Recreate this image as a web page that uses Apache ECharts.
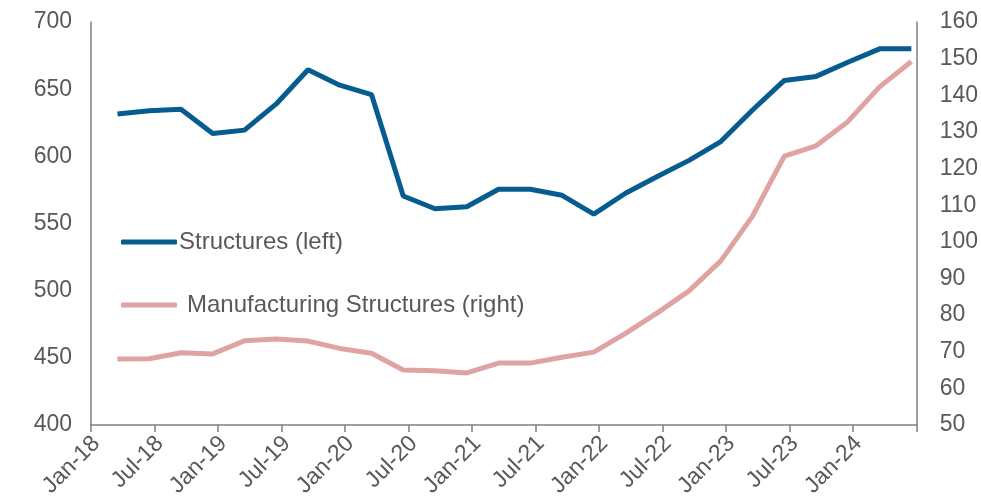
<!DOCTYPE html>
<html>
<head>
<meta charset="utf-8">
<script src="https://cdn.jsdelivr.net/npm/echarts@6/dist/echarts.min.js"></script>
<style>html,body{margin:0;padding:0;background:#fff}#c{width:981px;height:504px}</style>
</head>
<body>
<div id="c"></div>
<script>
// Quarterly observations (plotted at mid-month of Mar, Jun, Sep, Dec)
const quarterMonths = ["Mar-18","Jun-18","Sep-18","Dec-18","Mar-19","Jun-19","Sep-19","Dec-19",
  "Mar-20","Jun-20","Sep-20","Dec-20","Mar-21","Jun-21","Sep-21","Dec-21",
  "Mar-22","Jun-22","Sep-22","Dec-22","Mar-23","Jun-23","Sep-23","Dec-23","Mar-24","Jun-24"];
const structures = [631.5,634,635,617,619.5,639,664.5,653,646,570.5,561,562.5,575.5,575.5,571,557,
  572.5,585,597,611,634.5,656.5,659.5,670,680,680];
const manufacturing = [68,68.1,69.7,69.4,73,73.5,72.9,70.9,69.6,65,64.8,64.2,66.9,66.9,68.5,69.9,
  75,80.6,86.6,94.8,107,123.4,126.2,132.8,142.3,149.2];
const monthNames = ["Jan","Feb","Mar","Apr","May","Jun","Jul","Aug","Sep","Oct","Nov","Dec"];
const years = ["18","19","20","21","22","23","24"];
const leftTicks = {min:400,max:700,interval:50};
const rightTicks = {min:50,max:160,interval:10};

const months = [];
years.forEach(y => monthNames.forEach((m,i) => { if (!(y==="24" && i>5)) months.push(m+"-"+y); }));
function toMonthly(vals){
  const map = {}; quarterMonths.forEach((q,i)=>map[q]=vals[i]);
  return months.map(m => (m in map) ? map[m] : null);
}

const txt = '#595959';
const axisCol = '#7f7f7f';
const font = 'Liberation Sans, Arial, sans-serif';
const chart = echarts.init(document.getElementById('c'));
chart.setOption({
  animation:false,
  grid:{left:91,right:62,top:22,bottom:79},
  legend:[
    {data:['Structures (left)'],left:121,top:230,padding:0,icon:'roundRect',itemWidth:56,itemHeight:5,
     textStyle:{color:txt,fontSize:24,fontFamily:font,padding:[0,0,0,-3]}},
    {data:['Manufacturing Structures (right)'],left:121,top:293,padding:0,icon:'roundRect',itemWidth:56,itemHeight:5,
     textStyle:{color:txt,fontSize:24,fontFamily:font,padding:[0,0,0,5]}}
  ],
  xAxis:{type:'category',data:months,boundaryGap:true,
    axisLine:{lineStyle:{color:axisCol,width:1.5}},
    axisTick:{show:true,interval:5,length:7,lineStyle:{color:axisCol,width:1.5}},
    axisLabel:{interval:5,rotate:45,color:txt,fontSize:23,fontFamily:font,margin:15}},
  yAxis:[
    {type:'value',min:leftTicks.min,max:leftTicks.max,interval:leftTicks.interval,
     axisLine:{show:true,lineStyle:{color:axisCol,width:1.5}},axisTick:{show:false},splitLine:{show:false},
     axisLabel:{color:txt,fontSize:23,fontFamily:font,margin:19}},
    {type:'value',min:rightTicks.min,max:rightTicks.max,interval:rightTicks.interval,
     axisLine:{show:true,lineStyle:{color:axisCol,width:1.5}},axisTick:{show:false},splitLine:{show:false},
     axisLabel:{color:txt,fontSize:23,fontFamily:font,margin:23}}
  ],
  series:[
    {name:'Structures (left)',type:'line',yAxisIndex:0,data:toMonthly(structures),connectNulls:true,
     showSymbol:false,symbol:'none',lineStyle:{color:'#065c8f',width:5},itemStyle:{color:'#065c8f'}},
    {name:'Manufacturing Structures (right)',type:'line',yAxisIndex:1,data:toMonthly(manufacturing),connectNulls:true,
     showSymbol:false,symbol:'none',lineStyle:{color:'#dfa3a3',width:5},itemStyle:{color:'#dfa3a3'}}
  ]
});
</script>
</body>
</html>
